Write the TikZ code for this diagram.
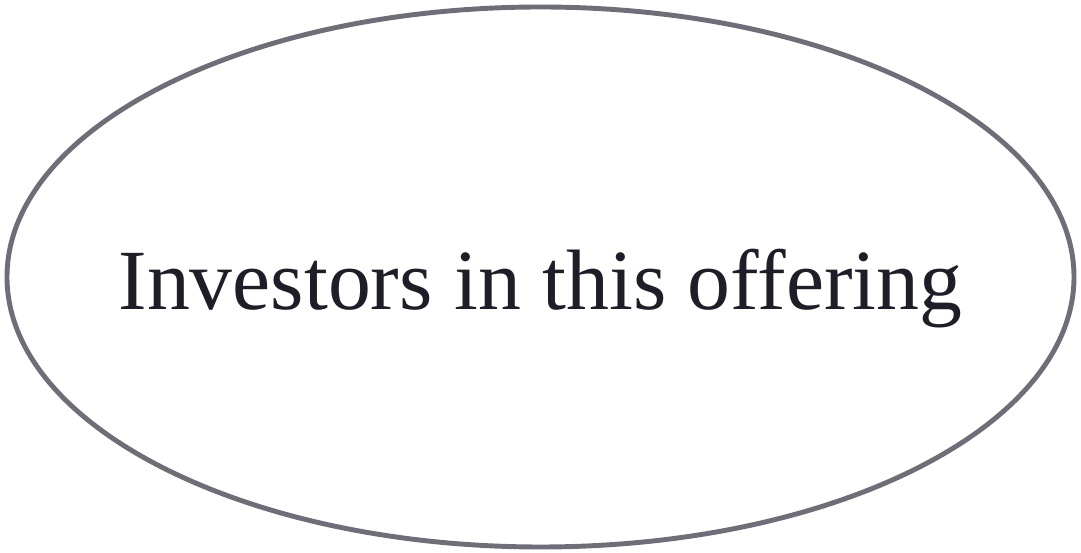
\documentclass[tikz,border=0pt]{standalone}
\usepackage{fontspec}
\setmainfont{Liberation Serif}
\definecolor{rimgray}{RGB}{110,110,120}
\definecolor{inkdark}{RGB}{30,30,40}
\tikzset{
party/.style={%
    inner sep=0pt,
    text=inkdark,
    text height=1.32cm,
    text depth=0pt,
    % Font
    font=\fontsize{48.8}{58}\selectfont
},
rim/.style={line width=2.8pt, draw=rimgray},
}

\begin{document}
\begin{tikzpicture}
	\useasboundingbox (0,0) rectangle (21.62,11.06);
	\node[party] (investors) at (10.81,5.52) {Investors in this offering};
	\draw[rim] (investors.center) ellipse [x radius=10.67cm, y radius=5.4cm];
\end{tikzpicture}
\end{document}
